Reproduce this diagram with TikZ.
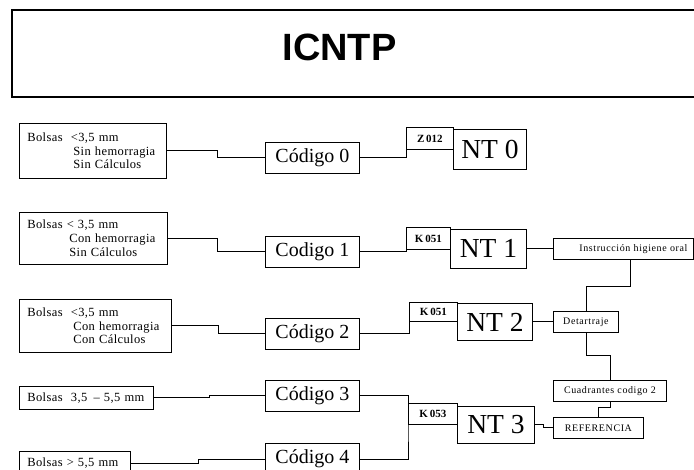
\documentclass[tikz,border=0pt]{standalone}
\usepackage{fontspec}
\setmainfont{Liberation Serif}
\newfontfamily\lsA[LetterSpace=3]{Liberation Serif}
\newfontfamily\lsB[LetterSpace=6]{Liberation Serif}
\newfontfamily\ttlfont{Liberation Sans}
\begin{document}
\begin{tikzpicture}[x=1pt,y=-1pt,line width=0.8pt,
  bbox/.style={draw,anchor=north west,inner xsep=8pt,inner ysep=0pt,align=left,
    font=\lsA\fontsize{12.5}{13.8}\selectfont},
  cbox/.style={draw,anchor=north west,inner sep=0pt,minimum width=94pt,minimum height=31pt,
    font=\fontsize{20}{24}\selectfont},
  kbox/.style={draw,anchor=north west,inner sep=0pt,font=\bfseries\fontsize{11}{12}\selectfont},
  nbox/.style={draw,anchor=north west,inner sep=0pt,font=\fontsize{27.5}{30}\selectfont},
  rbox/.style={draw,anchor=north west,inner sep=0pt,minimum height=21pt,
    font=\lsB\fontsize{10}{11}\selectfont}]
\clip (0,0) rectangle (694,470);
% title
\draw[line width=2.4pt] (12,10) rectangle (720,97);
\node[font=\ttlfont\bfseries\fontsize{38}{40}\selectfont,inner sep=0pt] (ttl) at (339.5,47) {ICNTP};
% left boxes
\node[bbox,minimum width=147pt,minimum height=55pt,text width=131pt] (b1) at (19,123)
  {Bolsas\ \ <3,5 mm\\\hspace*{46pt}Sin hemorragia\\\hspace*{46pt}Sin Cálculos};
\node[bbox,minimum width=148pt,minimum height=52pt,text width=132pt] (b2) at (19,212)
  {Bolsas < 3,5 mm\\\hspace*{42pt}Con hemorragia\\\hspace*{42pt}Sin Cálculos};
\node[bbox,minimum width=152pt,minimum height=53pt,text width=136pt] (b3) at (19,299)
  {Bolsas\ \ <3,5 mm\\\hspace*{46pt}Con hemorragia\\\hspace*{46pt}Con Cálculos};
\node[bbox,minimum width=134pt,minimum height=23pt,text width=118pt] (b4) at (19,386)
  {Bolsas\ \ 3,5\ \,– 5,5 mm};
\node[bbox,minimum width=111pt,minimum height=23pt,text width=95pt] (b5) at (19,451)
  {Bolsas > 5,5 mm};
% codigo boxes
\node[cbox] (c0) at (265,142) {Código 0};
\node[cbox] (c1) at (265,236) {Codigo 1};
\node[cbox] (c2) at (265,318) {Código 2};
\node[cbox] (c3) at (265,380) {Código 3};
\node[cbox] (c4) at (265,443) {Código 4};
% K boxes
\node[kbox,minimum width=47pt,minimum height=22pt] (k0) at (406,127) {Z\,012};
\node[kbox,minimum width=44pt,minimum height=22pt] (k1) at (406,227) {K\,051};
\node[kbox,minimum width=48pt,minimum height=19pt] (k2) at (409,302) {K\,051};
\node[kbox,minimum width=49pt,minimum height=21pt] (k3) at (408,403) {K\,053};
% NT boxes
\node[nbox,minimum width=73pt,minimum height=40pt] (n0) at (453,129) {NT 0};
\node[nbox,minimum width=76pt,minimum height=39pt] (n1) at (450,229) {NT 1};
\node[nbox,minimum width=75pt,minimum height=37pt] (n2) at (457,303) {NT 2};
\node[nbox,minimum width=77pt,minimum height=37pt] (n3) at (457,406) {NT 3};
% right boxes
\node[rbox,minimum width=140pt,text width=128pt,align=right] (instr) at (553,238) {Instrucción higiene oral};
\node[rbox,minimum width=65pt] (det) at (553,311) {Detartraje};
\node[rbox,minimum width=113pt] (cuad) at (553,380) {Cuadrantes codigo 2};
\node[rbox,minimum width=90pt] (ref) at (553,417) {REFERENCIA};
% connectors left
\draw (b1.east) -- ++(51,0) |- (c0.west);
\draw (b2.east) -- ++(50,0) |- (c1.west);
\draw (b3.east) -- ++(47,0) |- (c2.west);
\draw (b4.east) -- ++(56,0) |- (c3.west);
\draw (b5.east) -- ++(68,0) |- (c4.west);
% connectors middle
\draw (c0.east) -| (k0.south west);
\draw (c1.east) -| (k1.south west);
\draw (c2.east) -| (k2.south west);
\draw (c3.east) -| (k3.south west) |- (c4.east);
% connectors right
\draw (n1.east) -- (instr.west);
\draw (n2.east) -- (det.west);
\draw (n3.east) -- ++(9,0) |- (ref.west);
\draw (instr.south west) ++(77,0) -- ++(0,27) -| (det.north);
\draw (det.south) -- ++(0,23) -| (cuad.north);
\draw (cuad.south) -- ++(0,6) -| (ref.north);
\end{tikzpicture}
\end{document}
